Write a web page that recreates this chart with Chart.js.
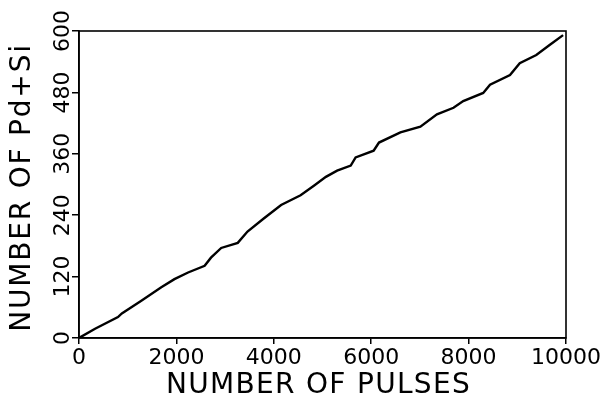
<!DOCTYPE html>
<html>
<head>
<meta charset="utf-8">
<script src="https://cdn.jsdelivr.net/npm/chart.js@4.4.0/dist/chart.umd.min.js"></script>
<style>
  html, body { margin: 0; padding: 0; background: #fff; }
  #wrap { width: 608px; height: 406px; }
</style>
</head>
<body>
<div id="wrap"><canvas id="myChart" width="608" height="406"></canvas></div>
<script>
// valores
const pulses = [0, 330, 800, 880, 1280, 1690, 1960, 2240, 2580, 2710, 2920, 3260, 3460, 3800,
                4150, 4550, 4830, 5070, 5300, 5580, 5680, 6050, 6160, 6600, 7010, 7350, 7690,
                7890, 8300, 8440, 8850, 9050, 9390, 9670, 9940];
const counts = [0, 18, 41, 48, 73, 99, 115, 128, 141, 157, 176, 186, 208, 234,
                260, 279, 298, 315, 327, 337, 353, 366, 382, 402, 413, 437, 450,
                463, 479, 495, 514, 537, 553, 573, 592];
const xTicks = [0, 2000, 4000, 6000, 8000, 10000];
const yTicks = [0, 120, 240, 360, 480, 600];

const xTitle = 'NUMBER OF PULSES';
const yTitle = 'NUMBER OF Pd+Si';

const points = pulses.map((p, i) => ({ x: p, y: counts[i] }));

// moldura, rótulos verticais do eixo y e títulos dos eixos
const framePlugin = {
    id: 'frame',
    afterDraw(chart) {
        const ctx = chart.ctx;
        const a = chart.chartArea;
        ctx.save();
        ctx.strokeStyle = '#000';
        ctx.lineWidth = 1.6;
        ctx.strokeRect(a.left, a.top, a.right - a.left, a.bottom - a.top);

        const ys = chart.scales.y;
        ctx.fillStyle = '#000';
        ctx.font = '22px "DejaVu Sans"';
        ctx.textAlign = 'center';
        ctx.textBaseline = 'middle';
        yTicks.forEach(v => {
            const py = ys.getPixelForValue(v);
            ctx.save();
            ctx.translate(63, py);
            ctx.rotate(-Math.PI / 2);
            ctx.fillText(String(v), 0, 0);
            ctx.restore();
        });

        // títulos
        ctx.font = '28px "DejaVu Sans"';
        ctx.letterSpacing = '1.3px';
        ctx.fillText(xTitle, (a.left + a.right) / 2 - 4, 386);

        ctx.letterSpacing = '1.8px';
        ctx.save();
        ctx.translate(23, (a.top + a.bottom) / 2 + 3);
        ctx.rotate(-Math.PI / 2);
        ctx.fillText(yTitle, 0, 0);
        ctx.restore();
        ctx.letterSpacing = '0px';
        ctx.restore();
    }
};

const ctx = document.getElementById('myChart').getContext('2d');
const myChart = new Chart(ctx, {
    type: 'line',
    data: {
        datasets: [{
            data: points,
            borderColor: '#000',
            borderWidth: 2.4,
            pointRadius: 0,
            tension: 0,
            fill: false
        }]
    },
    options: {
        responsive: false,
        animation: false,
        events: [],
        layout: { padding: { left: 72, right: 42, top: 31, bottom: 34 } },
        plugins: { legend: { display: false }, tooltip: { enabled: false } },
        scales: {
            x: {
                type: 'linear',
                min: 0,
                max: 10000,
                afterBuildTicks: s => { s.ticks = xTicks.map(v => ({ value: v })); },
                ticks: {
                    color: '#000',
                    padding: 3,
                    maxRotation: 0,
                    callback: v => String(v),
                    font: { family: 'DejaVu Sans', size: 22, lineHeight: 1.0 }
                },
                grid: { display: true, drawOnChartArea: false, drawTicks: true, tickLength: 6, color: '#000', lineWidth: 1.5 },
                border: { display: true, color: '#000', width: 1.6 },
                title: { display: false }
            },
            y: {
                type: 'linear',
                min: 0,
                max: 600,
                afterBuildTicks: s => { s.ticks = yTicks.map(v => ({ value: v })); },
                ticks: { display: false },
                grid: { display: true, drawOnChartArea: false, drawTicks: true, tickLength: 7, color: '#000', lineWidth: 1.5 },
                border: { display: true, color: '#000', width: 1.6 },
                title: { display: false }
            }
        }
    },
    plugins: [framePlugin]
});
</script>
</body>
</html>
